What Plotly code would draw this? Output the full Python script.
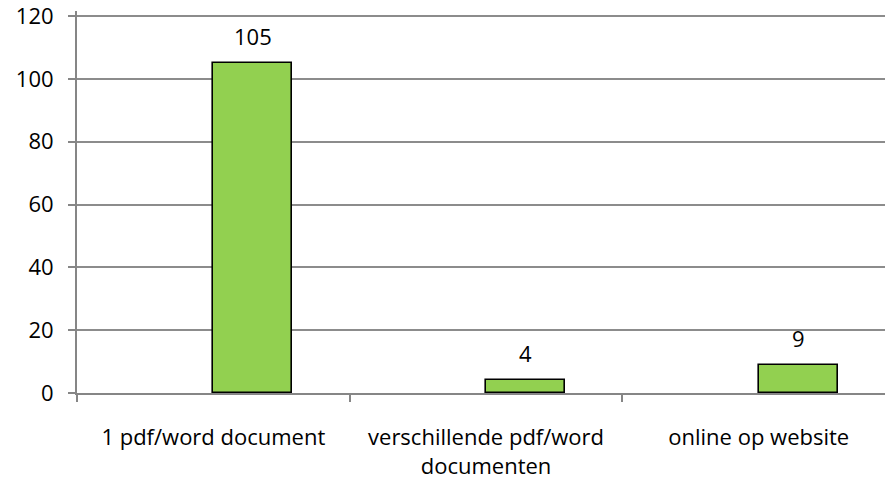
import plotly.graph_objects as go

categories = ["1 pdf/word document", "verschillende pdf/word<br>documenten", "online op website"]
values = [105, 4, 9]
y_ticks = [0, 20, 40, 60, 80, 100, 120]

BAR_W = 0.289
FONT = "Open Sans"
FS = 22

fig = go.Figure()
fig.add_trace(go.Bar(
    x=categories, y=values, width=BAR_W, offset=0,
    marker=dict(color="#92D050", line=dict(color="#000000", width=1.6)),
    showlegend=False, hoverinfo="skip",
))

for i, v in enumerate(values):
    fig.add_annotation(x=i + BAR_W / 2, y=v, xref="x", yref="y", text=str(v),
                       showarrow=False, yshift=27, yanchor="middle",
                       font=dict(family=FONT, size=FS, color="#000000"))

fig.update_layout(
    width=885, height=483,
    margin=dict(l=77, r=0, t=11, b=90, autoexpand=False),
    paper_bgcolor="white", plot_bgcolor="white",
    font=dict(family=FONT, size=FS, color="#000000"),
    bargap=0,
)
fig.update_xaxes(
    range=[-0.5, 2.463], showgrid=False, automargin=False,
    showline=True, linecolor="#868686", linewidth=2,
    ticks="outside", tickson="boundaries", ticklen=7, tickcolor="#868686", tickwidth=1.5,
    ticklabelstandoff=24,
    tickfont=dict(family=FONT, size=FS, color="#000000"),
)
fig.update_yaxes(
    range=[0, 121.6], tickvals=y_ticks, automargin=False,
    showgrid=True, gridcolor="#8c8c8c", gridwidth=1.5,
    showline=True, linecolor="#868686", linewidth=2,
    ticks="outside", ticklen=7, tickcolor="#868686", tickwidth=1.5,
    ticklabelstandoff=10, ticklabeloverflow="allow",
    tickfont=dict(family=FONT, size=FS, color="#000000"),
    zeroline=False,
)

fig.write_html("out.html", config={"displayModeBar": False},
               post_script="document.body.style.margin='0';")
